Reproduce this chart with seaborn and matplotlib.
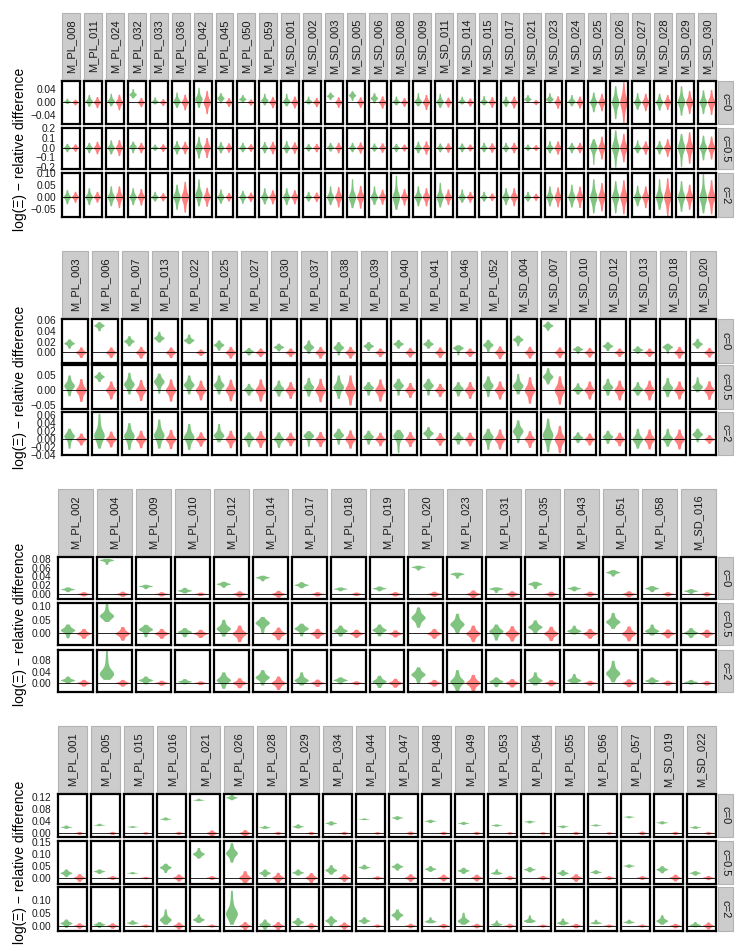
import numpy as np
import pandas as pd
import matplotlib
matplotlib.use("Agg")
import matplotlib.pyplot as plt
import seaborn as sns
from matplotlib.patches import Rectangle

# ---- data ----
# green violins: (low, mode, high); red violins: half range around 0

B1_LABELS = ["M_PL_008", "M_PL_011", "M_PL_024", "M_PL_032", "M_PL_033", "M_PL_036",
             "M_PL_042", "M_PL_045", "M_PL_050", "M_PL_059", "M_SD_001", "M_SD_002",
             "M_SD_003", "M_SD_005", "M_SD_006", "M_SD_008", "M_SD_009", "M_SD_011",
             "M_SD_014", "M_SD_015", "M_SD_017", "M_SD_021", "M_SD_023", "M_SD_024",
             "M_SD_025", "M_SD_026", "M_SD_027", "M_SD_028", "M_SD_029", "M_SD_030"]
B1_C0_G = [(-.005, .002, .012), (-.014, .003, .024), (-.012, .004, .028), (.013, .025, .043),
           (-.006, .002, .017), (-.017, .003, .032), (-.017, .01, .047), (-.003, .013, .03),
           (-.001, .01, .024), (-.009, .006, .028), (-.012, .003, .028), (-.006, .003, .019),
           (.008, .02, .032), (.005, .022, .036), (-.003, .013, .03), (-.009, .002, .019),
           (-.012, .003, .03), (-.017, .002, .028), (-.006, .003, .019), (-.009, .002, .021),
           (-.014, .001, .019), (0, .01, .024), (-.003, .01, .03), (-.012, .003, .024),
           (-.031, 0, .032), (-.053, 0, .052), (-.023, 0, .03), (-.026, 0, .028),
           (-.042, .002, .052), (-.037, 0, .039)]
B1_C0_R = [.009, .018, .025, .015, .011, .025, .037, .014, .01, .018, .019, .015, .017, .017, .02,
           .014, .024, .016, .013, .017, .019, .008, .02, .019, .028, .065, .028, .024, .037, .04]
B1_C05_G = [(-.044, 0, .044), (-.055, 0, .055), (-.067, 0, .081), (-.055, .01, .067),
            (-.03, 0, .037), (-.067, 0, .074), (-.111, 0, .118), (-.055, 0, .063),
            (-.044, 0, .055), (-.055, 0, .063), (-.055, 0, .074), (-.037, 0, .044),
            (-.037, .005, .055), (-.044, 0, .055), (-.037, 0, .048), (-.044, 0, .044),
            (-.055, 0, .067), (-.044, 0, .048), (-.044, 0, .048), (-.044, 0, .055),
            (-.044, 0, .055), (-.03, 0, .037), (-.055, 0, .074), (-.055, 0, .055),
            (-.178, 0, .093), (-.205, 0, .185), (-.055, 0, .081), (-.067, 0, .074),
            (-.2, 0, .148), (-.13, 0, .13)]
B1_C05_R = [.04, .065, .085, .055, .04, .065, .105, .05, .04, .065, .06, .044, .055, .06, .05,
            .037, .07, .05, .037, .05, .055, .03, .07, .055, .12, .15, .07, .093, .165, .12]
B1_C2_G = [(-.03, 0, .03), (-.033, 0, .038), (-.038, 0, .046), (-.033, 0, .038),
           (-.018, 0, .023), (-.053, 0, .053), (-.038, .01, .076), (-.027, 0, .033),
           (-.027, 0, .027), (-.03, 0, .038), (-.033, 0, .038), (-.018, 0, .023),
           (-.033, 0, .046), (-.046, 0, .076), (-.033, 0, .046), (-.053, 0, .091),
           (-.038, 0, .046), (-.043, 0, .061), (-.023, 0, .033), (-.018, 0, .023),
           (-.033, 0, .038), (-.018, 0, .023), (-.038, 0, .046), (-.043, 0, .053),
           (-.068, 0, .076), (-.068, 0, .068), (-.038, 0, .049), (-.053, 0, .076),
           (-.061, 0, .068), (-.068, 0, .1)]
B1_C2_R = [.023, .023, .046, .035, .017, .065, .04, .018, .02, .03, .03, .02, .043, .048, .032,
           .035, .038, .033, .023, .016, .038, .015, .042, .045, .06, .072, .046, .08, .053, .072]

B2_LABELS = ["M_PL_003", "M_PL_006", "M_PL_007", "M_PL_013", "M_PL_022", "M_PL_025",
             "M_PL_027", "M_PL_030", "M_PL_037", "M_PL_038", "M_PL_039", "M_PL_040",
             "M_PL_041", "M_PL_046", "M_PL_052", "M_SD_004", "M_SD_007", "M_SD_010",
             "M_SD_012", "M_SD_013", "M_SD_018", "M_SD_020"]
B2_C0_G = [(.0075, .017, .025), (.04, .05, .057), (.012, .021, .031), (.019, .027, .039),
           (.016, .023, .034), (.004, .014, .023), (-.005, .002, .009), (.0025, .01, .017),
           (-.002, .01, .023), (-.005, .009, .02), (.003, .012, .02), (.0075, .016, .024),
           (.0075, .016, .025), (-.005, .008, .014), (.001, .014, .024), (.012, .024, .032),
           (.041, .05, .058), (-.002, .006, .012), (.003, .012, .02), (-.002, .005, .012),
           (-.002, .01, .017), (.0075, .016, .026)]
B2_C0_R = [.01, .01, .011, .01, .006, .011, .008, .008, .011, .011, .008, .009, .01, .008,
           .012, .011, .01, .009, .008, .008, .011, .009]
B2_C05_G = [(-.019, .015, .05), (.028, .045, .061), (-.013, .02, .059), (-.011, .028, .056),
            (-.013, .018, .05), (-.013, .017, .05), (-.017, .002, .022), (-.02, .005, .033),
            (-.02, .01, .042), (-.028, .01, .05), (-.017, .008, .028), (-.017, .015, .039),
            (-.017, .015, .039), (-.02, .005, .028), (-.022, .015, .047), (-.013, .015, .055),
            (.02, .045, .074), (-.014, .003, .024), (-.017, .01, .039), (-.017, .003, .028),
            (-.022, .008, .042), (-.006, .012, .044)]
B2_C05_R = [.038, .03, .035, .037, .033, .036, .037, .028, .039, .05, .037, .025, .022, .028,
            .03, .044, .047, .03, .033, .033, .03, .031]
B2_C2_G = [(-.023, .007, .027), (-.023, .01, .064), (-.026, .008, .041), (-.023, .01, .05),
           (-.026, .005, .039), (-.007, .01, .039), (-.019, .002, .018), (-.021, 0, .018),
           (-.018, .008, .021), (-.013, .01, .027), (-.013, .006, .022), (-.034, .007, .024),
           (0, .015, .031), (-.013, .003, .018), (-.026, .005, .027), (-.009, .02, .048),
           (-.032, .01, .052), (-.009, .004, .018), (-.011, .006, .022), (-.023, 0, .027),
           (-.018, .002, .027), (-.007, .012, .027)]
B2_C2_R = [.015, .02, .022, .024, .018, .022, .021, .017, .019, .023, .017, .019, .016, .017,
           .025, .021, .034, .015, .017, .025, .025, .011]

B3_LABELS = ["M_PL_002", "M_PL_004", "M_PL_009", "M_PL_010", "M_PL_012", "M_PL_014",
             "M_PL_017", "M_PL_018", "M_PL_019", "M_PL_020", "M_PL_023", "M_PL_031",
             "M_PL_035", "M_PL_043", "M_PL_051", "M_PL_058", "M_SD_016"]
B3_C0_G = [(.005, .011, .016), (.068, .078, .082), (.012, .018, .022), (.002, .008, .015),
           (.015, .023, .029), (.03, .038, .043), (.014, .021, .028), (.007, .012, .016),
           (.007, .013, .018), (.055, .062, .066), (.036, .046, .05), (.003, .012, .016),
           (.012, .023, .029), (.007, .013, .018), (.041, .05, .056), (.005, .013, .019),
           (.001, .007, .012)]
B3_C0_R = [.005, .006, .005, .004, .007, .008, .005, .004, .005, .006, .009, .007, .006, .006,
           .007, .005, .005]
B3_C05_G = [(-.016, .012, .034), (.043, .065, .11), (-.012, .015, .033), (-.012, .006, .021),
            (-.01, .018, .051), (0, .038, .061), (-.009, .018, .037), (-.01, .01, .03),
            (-.009, .013, .034), (.022, .058, .096), (0, .034, .073), (-.024, .008, .034),
            (0, .024, .049), (-.002, .01, .03), (.018, .043, .076), (-.006, .01, .034),
            (-.015, .003, .021)]
B3_C05_R = [.018, .025, .018, .015, .03, .023, .018, .015, .013, .018, .03, .028, .026, .018,
            .027, .016, .015]
B3_C2_G = [(-.002, .01, .024), (.012, .035, .115), (-.004, .01, .024), (-.004, .005, .015),
           (-.02, .01, .039), (-.008, .02, .047), (-.008, .01, .039), (-.004, .01, .021),
           (-.017, .005, .027), (-.002, .03, .057), (-.028, .005, .047), (-.014, .005, .021),
           (-.008, .01, .039), (-.002, .01, .033), (.003, .035, .08), (-.004, .008, .021),
           (-.005, .003, .012)]
B3_C2_R = [.012, .012, .009, .007, .018, .024, .013, .007, .016, .012, .03, .015, .011, .009,
           .014, .009, .008]

B4_LABELS = ["M_PL_001", "M_PL_005", "M_PL_015", "M_PL_016", "M_PL_021", "M_PL_026",
             "M_PL_028", "M_PL_029", "M_PL_034", "M_PL_044", "M_PL_047", "M_PL_048",
             "M_PL_049", "M_PL_053", "M_PL_054", "M_PL_055", "M_PL_056", "M_PL_057",
             "M_SD_019", "M_SD_022"]
B4_C0_G = [(.015, .02, .026), (.024, .027, .032), (.018, .021, .024), (.043, .047, .053),
           (.107, .11, .115), (.11, .118, .127), (.015, .019, .025), (.016, .022, .03),
           (.026, .033, .04), (.044, .046, .05), (.044, .051, .057), (.034, .04, .045),
           (.028, .033, .038), (.022, .026, .03), (.033, .038, .042), (.017, .022, .026),
           (.023, .026, .03), (.05, .054, .057), (.03, .035, .04), (.015, .019, .024)]
B4_C0_R = [.005, .005, .004, .005, .01, .011, .005, .005, .005, .004, .006, .005, .005, .004,
           .004, .005, .004, .006, .005, .005]
B4_C05_G = [(.004, .02, .036), (.017, .027, .036), (.016, .02, .025), (.021, .043, .06),
            (.081, .1, .126), (.064, .103, .146), (.004, .02, .036), (.01, .022, .036),
            (.014, .032, .054), (.036, .044, .056), (.031, .047, .061), (.026, .037, .05),
            (.017, .03, .043), (.014, .02, .037), (.024, .035, .046), (.009, .02, .034),
            (.016, .024, .033), (.043, .05, .057), (.02, .035, .05), (.01, .02, .029)]
B4_C05_R = [.016, .008, .005, .015, .008, .029, .022, .021, .016, .007, .016, .014, .014, .009,
            .009, .016, .008, .008, .014, .009]
B4_C2_G = [(-.008, .01, .026), (-.008, .005, .016), (.005, .012, .023), (.005, .025, .066),
           (.012, .025, .046), (.005, .05, .14), (-.015, .005, .026), (-.001, .015, .032),
           (-.001, .02, .039), (.008, .02, .035), (.022, .043, .066), (.011, .018, .035),
           (.005, .02, .053), (0, .006, .022), (.012, .02, .043), (.003, .012, .03),
           (.007, .012, .025), (.009, .015, .025), (.005, .02, .043), (-.005, .003, .016)]
B4_C2_R = [.011, .011, .006, .014, .006, .016, .016, .011, .014, .006, .009, .009, .009, .009,
           .006, .009, .006, .006, .009, .014]

ROW_LABELS = ["c=0", "c=0.5", "c=2"]

# y axis limits and ticks for each block row: (ylim, ticks, decimals)
B1_AXES = [((-0.07, 0.067), [-0.04, 0.0, 0.04], 2),
           ((-0.225, 0.205), [-0.2, -0.1, 0.0, 0.1, 0.2], 1),
           ((-0.085, 0.10), [-0.05, 0.0, 0.05, 0.10], 2)]
B2_AXES = [((-0.02, 0.062), [0.0, 0.02, 0.04, 0.06], 2),
           ((-0.063, 0.083), [-0.05, 0.0, 0.05], 2),
           ((-0.04, 0.0675), [-0.04, -0.02, 0.0, 0.02, 0.04, 0.06], 2)]
B3_AXES = [((-0.012, 0.085), [0.0, 0.02, 0.04, 0.06, 0.08], 2),
           ((-0.042, 0.11), [0.0, 0.05, 0.10], 2),
           ((-0.033, 0.117), [0.0, 0.04, 0.08], 2)]
B4_AXES = [((-0.0137, 0.129), [0.0, 0.04, 0.08, 0.12], 2),
           ((-0.027, 0.153), [0.0, 0.05, 0.10, 0.15], 2),
           ((-0.0216, 0.153), [0.0, 0.05, 0.10], 2)]

# ---- layout in pixels ----
W, H = 747, 951
GREEN = "#2E9E2E"
RED = "#FF2A2A"
# shape of a violin sample, relative to its low/mode/high
SHAPE = np.array([0.0, 0.0, 0.07, 0.15, 0.25, 0.38, 0.55, 0.75, 1.0])

LAYOUT = [
    dict(x0=62, strip_top=13, rows=[(81, 124), (128, 169), (173, 217)]),
    dict(x0=62, strip_top=251, rows=[(319, 363), (365, 409), (412, 455)]),
    dict(x0=58, strip_top=489, rows=[(557, 599), (603, 645), (650, 692)]),
    dict(x0=58, strip_top=726, rows=[(794, 837), (841, 884), (887, 931)]),
]
X1 = 716
GAP = 4


def fx(x):
    return x / W


def fy(y):
    return 1 - y / H


def violin_values(lo, mid, hi):
    down = mid - (mid - lo) * SHAPE
    up = mid + (hi - mid) * SHAPE
    return np.concatenate([down, up])


def tick_text(v, d):
    s = f"{abs(v):.{d}f}"
    return ("\u2212" + s) if v < -1e-12 else s


def draw_panel(ax, g, r, axes_info, first):
    ylim, ticks, dec = axes_info
    gv = violin_values(*g)
    rv = violin_values(-r, 0.0, r)
    df = pd.DataFrame({"grp": ["g"] * len(gv) + ["r"] * len(rv),
                       "val": np.concatenate([gv, rv])})
    sns.violinplot(data=df, x="grp", y="val", hue="grp", order=["g", "r"],
                   hue_order=["g", "r"], palette={"g": GREEN, "r": RED},
                   cut=0, inner=None, density_norm="area", width=0.9,
                   linewidth=0, saturation=1, legend=False, bw_adjust=0.8,
                   alpha=0.6, ax=ax)
    ax.axhline(0, color="black", lw=0.6, zorder=5)
    ax.set_xlim(-0.6, 1.6)
    ax.set_ylim(*ylim)
    ax.set_xlabel("")
    ax.set_ylabel("")
    ax.set_xticks([])
    ax.set_yticks(ticks)
    if first:
        ax.set_yticklabels([tick_text(t, dec) for t in ticks])
        ax.tick_params(axis="y", length=3, width=0.8, color="#333333",
                       labelsize=7.3, pad=1.5, labelcolor="#1a1a1a")
    else:
        ax.tick_params(axis="y", left=False, labelleft=False)
    ax.set_facecolor("white")
    for sp in ax.spines.values():
        sp.set_color("black")
        sp.set_linewidth(1.6)


def draw_block(fig, lay, labels, greens, reds, axes_rows):
    n = len(labels)
    x0 = lay["x0"]
    pitch = (X1 - x0 + GAP) / n
    w = pitch - GAP
    rows = lay["rows"]
    top = rows[0][0]
    for j, lab in enumerate(labels):
        left = x0 + j * pitch
        # column strip
        fig.add_artist(Rectangle((fx(left), fy(top - 2)), w / W, (top - 2 - lay["strip_top"]) / H,
                                 transform=fig.transFigure, facecolor="#CCCCCC",
                                 edgecolor="#B3B3B3", lw=0.8))
        fig.text(fx(left + w / 2), fy((top - 2 + lay["strip_top"]) / 2), lab,
                 rotation=90, ha="center", va="center", fontsize=8, color="#1a1a1a")
        for i, (yt, yb) in enumerate(rows):
            ax = fig.add_axes([fx(left), fy(yb), w / W, (yb - yt) / H])
            draw_panel(ax, greens[i][j], reds[i][j], axes_rows[i], j == 0)
    for i, (yt, yb) in enumerate(rows):
        fig.add_artist(Rectangle((fx(X1 + 2), fy(yb)), 15 / W, (yb - yt) / H,
                                 transform=fig.transFigure, facecolor="#CCCCCC",
                                 edgecolor="#B3B3B3", lw=0.8))
        fig.text(fx(X1 + 9.5), fy((yt + yb) / 2), ROW_LABELS[i], rotation=-90,
                 ha="center", va="center", fontsize=8, color="#1a1a1a")
    fig.text(fx(20), fy((rows[0][0] + rows[2][1]) / 2), "log(\u039e) \u2212 relative difference",
             rotation=90, ha="center", va="center", fontsize=10, color="black")


if __name__ == "__main__":
    sns.set_style("white")
    plt.rcParams["font.family"] = ["Liberation Sans", "DejaVu Sans"]

    fig = plt.figure(figsize=(W / 100, H / 100), dpi=100)
    blocks = [
        (B1_LABELS, [B1_C0_G, B1_C05_G, B1_C2_G], [B1_C0_R, B1_C05_R, B1_C2_R], B1_AXES),
        (B2_LABELS, [B2_C0_G, B2_C05_G, B2_C2_G], [B2_C0_R, B2_C05_R, B2_C2_R], B2_AXES),
        (B3_LABELS, [B3_C0_G, B3_C05_G, B3_C2_G], [B3_C0_R, B3_C05_R, B3_C2_R], B3_AXES),
        (B4_LABELS, [B4_C0_G, B4_C05_G, B4_C2_G], [B4_C0_R, B4_C05_R, B4_C2_R], B4_AXES),
    ]
    for lay, (labels, greens, reds, axes_rows) in zip(LAYOUT, blocks):
        draw_block(fig, lay, labels, greens, reds, axes_rows)

    fig.savefig("out.png", dpi=100, facecolor="white")
